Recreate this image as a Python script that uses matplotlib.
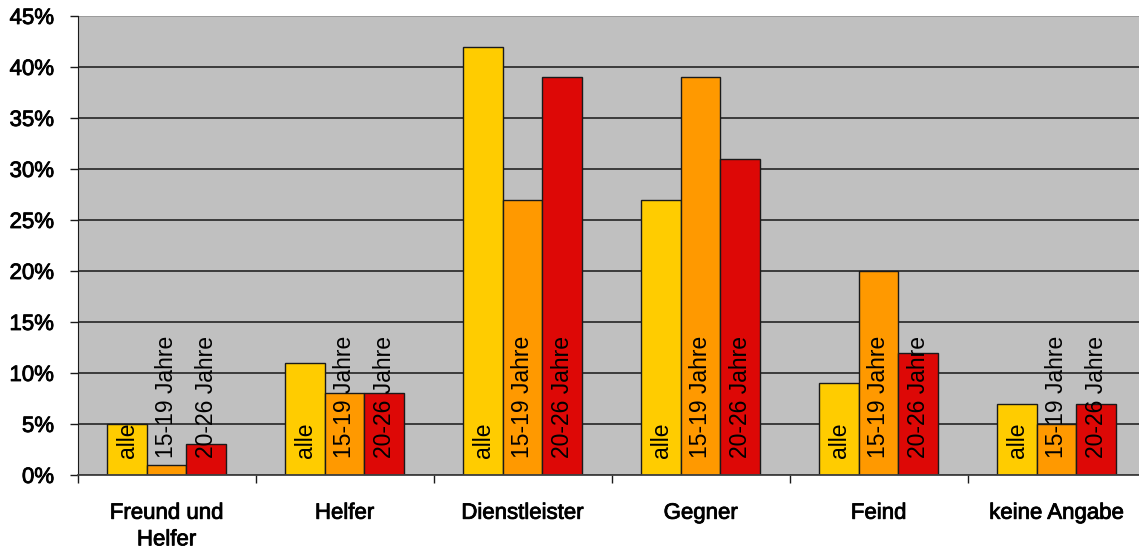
import numpy as np
import matplotlib.pyplot as plt
import matplotlib.patheffects as pe

plt.rcParams['font.family'] = ['Liberation Sans', 'DejaVu Sans']

# Antworten nach Altersgruppe (Anteil in %)
categories = ['Freund und\nHelfer', 'Helfer', 'Dienstleister', 'Gegner', 'Feind', 'keine Angabe']
series_names = ['alle', '15-19 Jahre', '20-26 Jahre']
alle = [5, 11, 42, 27, 9, 7]
jahre_15_19 = [1, 8, 27, 39, 20, 5]
jahre_20_26 = [3, 8, 39, 31, 12, 7]
y_ticks = [0, 5, 10, 15, 20, 25, 30, 35, 40, 45]

colors = ['#FFCC00', '#FF9900', '#DD0806']
heavy = [pe.withStroke(linewidth=0.6, foreground='black')]

fig = plt.figure(figsize=(11.39, 5.49), dpi=100)
ax = fig.add_axes([0.0682, 0.1348, 0.9377, 0.8361])
ax.set_facecolor('#C0C0C0')

x = np.arange(len(categories))
w = 0.222
for k, (name, vals) in enumerate(zip(series_names, [alle, jahre_15_19, jahre_20_26])):
    pos = x + (k - 1) * w
    ax.bar(pos, vals, width=w, color=colors[k], edgecolor='#1a1a1a', linewidth=1.0, zorder=2)
    for xp in pos:
        ax.annotate(name, (xp, 0), xytext=(0, 12), textcoords='offset points',
                    rotation=90, ha='center', va='bottom', fontsize=16.5, zorder=3)

ax.set_xlim(-0.5, len(categories) - 0.5)
ax.set_ylim(0, 45)

# y-Achse
ax.set_yticks(y_ticks)
ax.set_yticklabels([f'{v}%' for v in y_ticks], fontsize=16)
ax.tick_params(axis='y', length=6, width=1, pad=11, direction='out', color='#1a1a1a')
ax.yaxis.grid(True, color='#303030', linewidth=1.3, zorder=1)
ax.set_axisbelow(True)
ax.get_ygridlines()[-1].set_color('#999999')

# x-Achse: Beschriftung mittig, Striche zwischen den Gruppen
ax.set_xticks(x)
ax.set_xticklabels(categories, fontsize=16, linespacing=1.35)
ax.tick_params(axis='x', which='major', length=0, pad=20)
ax.set_xticks(np.arange(-0.5, len(categories)), minor=True)
ax.tick_params(axis='x', which='minor', length=6, width=1, direction='out', color='#1a1a1a')

for lbl in ax.get_xticklabels() + ax.get_yticklabels():
    lbl.set_path_effects(heavy)

for side in ['top', 'right']:
    ax.spines[side].set_visible(False)
ax.spines['left'].set_color('#1a1a1a')
ax.spines['bottom'].set_color('#404040')
ax.spines['bottom'].set_linewidth(1.3)

fig.savefig('out.png', dpi=100)
